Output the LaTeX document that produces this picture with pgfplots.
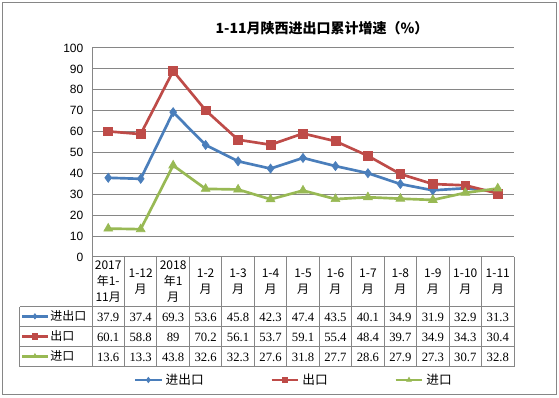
\documentclass[border=0pt]{standalone}
\usepackage{pgfplots}
\pgfplotsset{compat=1.18}
\usepackage{fontspec}
\setmainfont{Noto Sans CJK SC}
\newfontfamily\arial{Liberation Sans}
\newfontfamily\numf{Liberation Serif}
\definecolor{cblue}{HTML}{4A7EBB}
\definecolor{cred}{HTML}{BE4B48}
\definecolor{cgreen}{HTML}{98B954}
\definecolor{gridc}{HTML}{868686}
\pgfplotsset{
  legend image code/.code={\draw[mark repeat=2,mark phase=2,#1,line width=2pt,mark size=2pt] plot coordinates {(0pt,0pt)(10pt,0pt)(20pt,0pt)};},
  sblue/.style={cblue, line width=2pt, mark=diamond*, mark size=3.4pt, mark options={fill=cblue,draw=cblue,line width=0.5pt}},
  sred/.style={cred, line width=2pt, mark=square*, mark size=3.3pt, mark options={fill=cred,draw=cred,line width=0.5pt}},
  sgreen/.style={cgreen, line width=2pt, mark=triangle*, mark size=3.8pt, mark options={fill=cgreen,draw=cgreen,line width=0.5pt}},
  keyaxis/.style={hide axis, scale only axis, width=1pt, height=1pt, xmin=0, xmax=1, ymin=0, ymax=1,
    legend image code/.code={\draw[mark repeat=2,mark phase=2,##1,line width=2pt,mark size=2pt] plot coordinates {(0pt,0pt)(9.5pt,0pt)(19pt,0pt)};},
    legend style={at={(0,0.5)}, anchor=west, draw=none, fill=none, inner sep=0pt, font=\fontsize{9}{10}\selectfont,
      nodes={inner sep=1pt}}},
}
\begin{document}
\begin{tikzpicture}
\begin{scope}[x=0.75pt,y=-0.75pt,shift={(-69pt,192.75pt)}]
\path[use as bounding box, fill=white] (0,0) rectangle (559,398);
\draw[gridc, line width=0.75pt] (3,3) rectangle (556,395);
\node[font=\bfseries\fontsize{10.5}{12}\selectfont] at (322,28) {1-11月陕西进出口累计增速（\%）};
\end{scope}

\begin{axis}[
  at={(0,0)}, anchor=south west,
  scale only axis, width=316.5pt, height=156.75pt,
  xmin=-0.5, xmax=12.5, ymin=0, ymax=100,
  ytick={0,10,...,100}, xtick=\empty,
  ymajorgrids, grid style={gridc, line width=0.75pt},
  axis x line*=bottom, axis y line*=left,
  axis line style={gridc, line width=0.75pt, -},
  major tick length=0pt,
  yticklabel style={font=\arial\fontsize{9}{10}\selectfont, xshift=-3pt},
  /pgf/number format/assume math mode=true,
  clip=false,
  legend columns=3,
  legend style={at={(0.4787,-0.5885)}, anchor=center, draw=none, fill=none,
    font=\fontsize{9.5}{10}\selectfont,
    /tikz/every even column/.append style={column sep=48pt}},
]
\addplot[sblue] coordinates {(0,37.9)(1,37.4)(2,69.3)(3,53.6)(4,45.8)(5,42.3)(6,47.4)(7,43.5)(8,40.1)(9,34.9)(10,31.9)(11,32.9)(12,31.3)};
\addlegendentry{进出口}
\addplot[sred] coordinates {(0,60.1)(1,58.8)(2,89)(3,70.2)(4,56.1)(5,53.7)(6,59.1)(7,55.4)(8,48.4)(9,39.7)(10,34.9)(11,34.3)(12,30.4)};
\addlegendentry{出口}
\addplot[sgreen] coordinates {(0,13.6)(1,13.3)(2,43.8)(3,32.6)(4,32.3)(5,27.6)(6,31.8)(7,27.7)(8,28.6)(9,27.9)(10,27.3)(11,30.7)(12,32.8)};
\addlegendentry{进口}
\end{axis}

\begin{axis}[keyaxis, at={(-53.5pt,-45pt)}, anchor=south west]
\addlegendimage{sblue}\addlegendentry{进出口}
\end{axis}
\begin{axis}[keyaxis, at={(-53.5pt,-60pt)}, anchor=south west]
\addlegendimage{sred}\addlegendentry{出口}
\end{axis}
\begin{axis}[keyaxis, at={(-53.5pt,-75pt)}, anchor=south west]
\addlegendimage{sgreen}\addlegendentry{进口}
\end{axis}

\begin{scope}[x=0.75pt,y=-0.75pt,shift={(-69pt,192.75pt)}]
\def\cw{32.4615}
\foreach \k in {0,...,13} \draw[gridc, line width=0.75pt] ({92+\k*\cw},257) -- ({92+\k*\cw},367);
\draw[gridc, line width=0.75pt] (20,307) -- (20,367);
\foreach \yy in {307,327,347,367} \draw[gridc, line width=0.75pt] (20,\yy) -- (514,\yy);
\foreach \t [count=\i from 0] in {{2017\\年1-\\11月},{1-12\\月},{2018\\年1\\月},{1-2\\月},{1-3\\月},{1-4\\月},{1-5\\月},{1-6\\月},{1-7\\月},{1-8\\月},{1-9\\月},{1-10\\月},{1-11\\月}}
  \node[align=center, font=\fontsize{9}{12}\selectfont, inner sep=0pt] at ({92+(\i+0.5)*\cw},282) {\t};
\foreach \v [count=\i from 0] in {37.9,37.4,69.3,53.6,45.8,42.3,47.4,43.5,40.1,34.9,31.9,32.9,31.3}
  \node[font=\numf\fontsize{9.5}{10}\selectfont, inner sep=0pt] at ({92+(\i+0.5)*\cw},317) {\v};
\foreach \v [count=\i from 0] in {60.1,58.8,89,70.2,56.1,53.7,59.1,55.4,48.4,39.7,34.9,34.3,30.4}
  \node[font=\numf\fontsize{9.5}{10}\selectfont, inner sep=0pt] at ({92+(\i+0.5)*\cw},337) {\v};
\foreach \v [count=\i from 0] in {13.6,13.3,43.8,32.6,32.3,27.6,31.8,27.7,28.6,27.9,27.3,30.7,32.8}
  \node[font=\numf\fontsize{9.5}{10}\selectfont, inner sep=0pt] at ({92+(\i+0.5)*\cw},357) {\v};
\end{scope}
\end{tikzpicture}
\end{document}
